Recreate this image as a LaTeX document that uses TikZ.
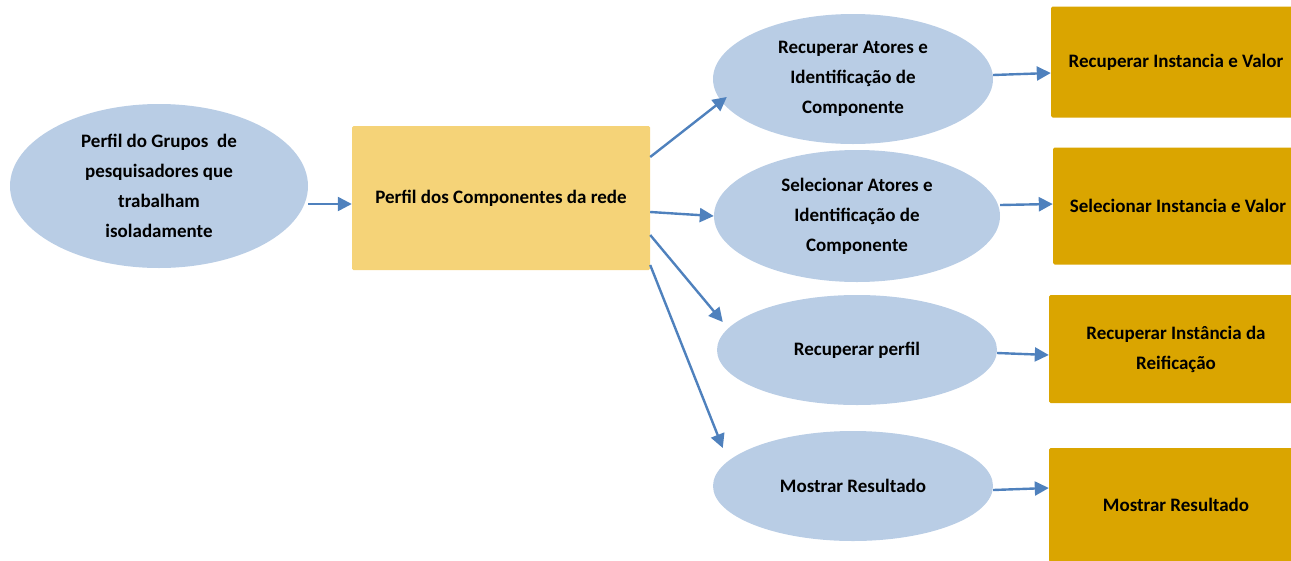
\documentclass[tikz,border=0pt]{standalone}
\usepackage{fontspec}
\setmainfont{Carlito}
\usetikzlibrary{shapes.geometric,arrows.meta}
\definecolor{ellblue}{HTML}{B9CDE5}
\definecolor{lightgold}{HTML}{F5D378}
\definecolor{darkgold}{HTML}{DAA500}
\definecolor{arrblue}{HTML}{4F81BD}
\begin{document}
\begin{tikzpicture}[x=1pt,y=1pt,
  every node/.style={font=\fontsize{19}{30}\selectfont\bfseries, align=center, inner sep=0pt},
  ell/.style={ellipse, fill=ellblue},
  lbox/.style={rectangle, fill=lightgold, rounded corners=1.5pt},
  dbox/.style={rectangle, fill=darkgold, rounded corners=1.5pt},
  arr/.style={draw=arrblue, line width=2.4pt, -{Triangle[length=14pt,width=14pt]}}]
\useasboundingbox (0,0) rectangle (1291,-560);
% left
\node[ell, minimum width=298pt, minimum height=164pt] (e1) at (159,-186) {Perfil do Grupos\ \ de\\pesquisadores que\\trabalham\\isoladamente};
\node[lbox, minimum width=298pt, minimum height=144pt] (r1) at (501,-198) {Perfil dos Componentes da rede};
% ellipses right
\node[ell, minimum width=280pt, minimum height=130pt] (e2) at (853,-79) {Recuperar Atores e\\Identificação de\\Componente};
\node[ell, minimum width=286pt, minimum height=132pt] (e3) at (857,-216) {Selecionar Atores e\\Identificação de\\Componente};
\node[ell, minimum width=280pt, minimum height=110pt] (e4) at (857,-350) {Recuperar perfil};
\node[ell, minimum width=280pt, minimum height=110pt] (e5) at (853,-486) {Mostrar Resultado};
% boxes right
\node[dbox, minimum width=250pt, minimum height=111pt] (r2) at (1176,-62) {Recuperar Instancia e Valor};
\node[dbox, minimum width=250pt, minimum height=117pt] (r3) at (1178,-206) {Selecionar Instancia e Valor};
\node[dbox, minimum width=254pt, minimum height=108pt] (r4) at (1176,-349) {Recuperar Instância da\\Reificação};
\node[dbox, minimum width=254pt, minimum height=114pt] (r5) at (1176,-505) {Mostrar Resultado};
% arrows
\draw[arr] ([yshift=-18pt]e1.east) -- ([yshift=-6pt]r1.west);
\draw[arr] ([yshift=41pt]r1.east) -- ([xshift=14pt,yshift=-18pt]e2.west);
\draw[arr] ([yshift=-14pt]r1.east) -- (e3.west);
\draw[arr] ([yshift=-37pt]r1.east) -- ([xshift=6pt,yshift=28pt]e4.west);
\draw[arr] ([yshift=-67pt]r1.east) -- ([xshift=10pt,yshift=38pt]e5.west);
\draw[arr] ([yshift=4pt]e2.east) -- ([yshift=-11pt]r2.west);
\draw[arr] ([yshift=11pt]e3.east) -- ([yshift=2pt]r3.west);
\draw[arr] ([yshift=-3pt]e4.east) -- ([yshift=-6pt]r4.west);
\draw[arr] ([yshift=-4pt]e5.east) -- ([yshift=17pt]r5.west);
\end{tikzpicture}
\end{document}
